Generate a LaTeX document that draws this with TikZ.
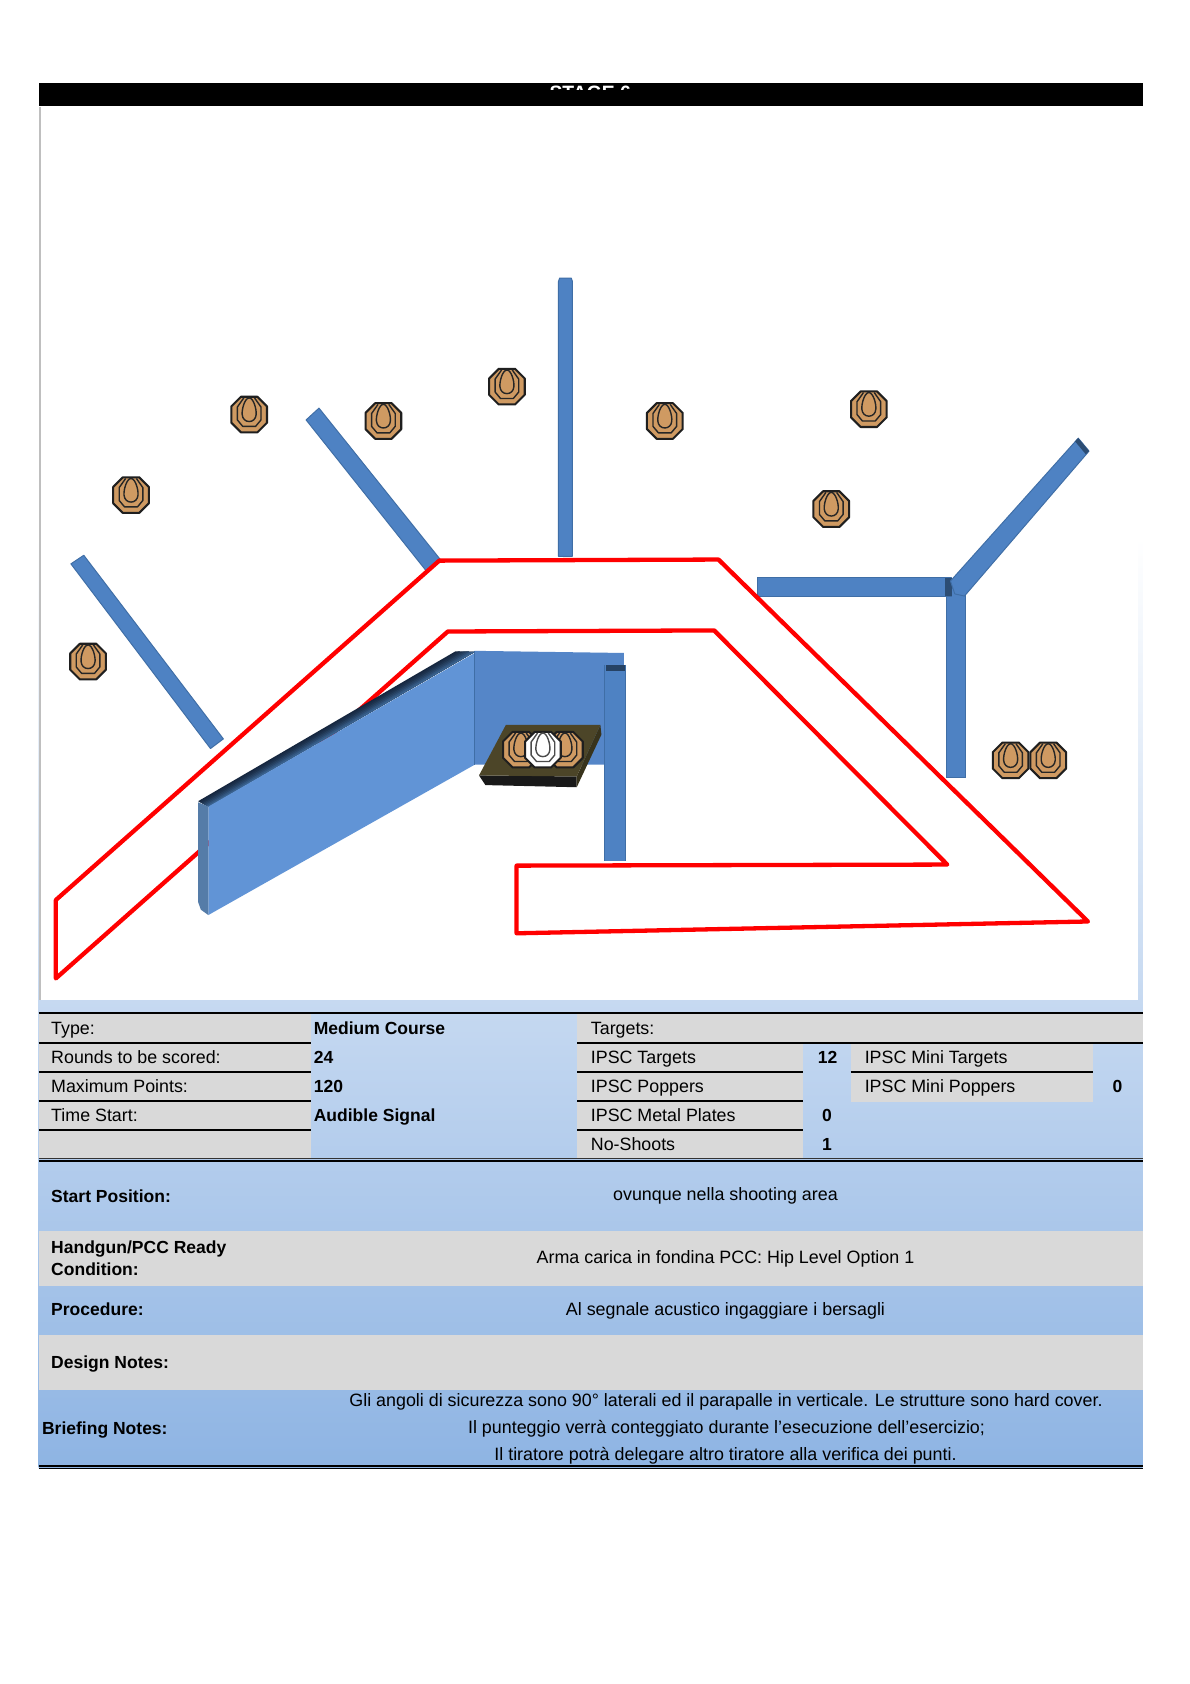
\documentclass[tikz,border=0pt]{standalone}
\usepackage{fontspec}
\setmainfont{Liberation Sans}
\usetikzlibrary{calc}
\definecolor{wallblue}{HTML}{4E82C3}
\definecolor{walledge}{HTML}{3F6EA6}
\definecolor{wallfront}{HTML}{6194D6}
\definecolor{wallback}{HTML}{5586C8}
\definecolor{wallside}{HTML}{557CA8}
\definecolor{gridgrey}{HTML}{D9D9D9}
\definecolor{tantarget}{HTML}{CF9A62}
\definecolor{padtop}{HTML}{4C4528}
\definecolor{padside}{HTML}{38331C}
\definecolor{banddark}{HTML}{16273F}
\definecolor{bandlight}{HTML}{3D6896}
\definecolor{bandtop}{HTML}{C6D9F1}
\definecolor{bandbot}{HTML}{8EB4E3}
\newcommand{\targetshape}[2]{%
  \draw[line width=1.9pt,draw=black!88,fill=#1,line join=round] (-7.6,-16.6)--(7.6,-16.6)--(16.6,-7.6)--(16.6,7.6)--(7.6,16.6)--(-7.6,16.6)--(-16.6,7.6)--(-16.6,-7.6)--cycle;
  \draw[line width=1.3pt,draw=#2,line join=round] (-5,-15.5)--(-11,-7)--(-11,5)--(-6,11)--(6,11)--(11,5)--(11,-7)--(5,-15.5);
  \draw[line width=1.3pt,draw=#2] (0,-15.5) .. controls (-4,-15.5) and (-7,-5) .. (-6.5,0) .. controls (-6.2,4) and (-3.5,6.5) .. (0,6.5) .. controls (3.5,6.5) and (6.2,4) .. (6.5,0) .. controls (7,-5) and (4,-15.5) .. (0,-15.5) -- cycle;
}
\tikzset{
  tgt/.pic={\targetshape{tantarget}{black!85}},
  whitetgt/.pic={\targetshape{white}{black!70}},
  wall/.style={fill=wallblue,draw=walledge,line width=0.9pt,line join=round},
  lbl/.style={anchor=base west,inner sep=0pt,font=\fontsize{16.6}{20}\selectfont},
  val/.style={anchor=base west,inner sep=0pt,font=\fontsize{16.3}{20}\selectfont\bfseries},
  num/.style={anchor=base,inner sep=0pt,font=\fontsize{16.3}{20}\selectfont\bfseries},
  mid/.style={anchor=base,inner sep=0pt,font=\fontsize{16.65}{20}\selectfont},
  gridline/.style={line width=2pt,draw=black},
  redline/.style={draw=red,line width=4pt,line join=round},
}
\begin{document}
\begin{tikzpicture}[x=1pt,y=-1pt]
\useasboundingbox (0,0) rectangle (1108,1568);
\fill[white] (0,0) rectangle (1108,1568);
% background gradients
\shade[top color=white,bottom color=bandtop] (36,500) rectangle (1064,932);
\shade[top color=bandtop,bottom color=bandbot] (36,931) rectangle (1064,1366);
\fill[white] (38,99) rectangle (1060,931);
\draw[line width=1.6pt,draw=black!25] (37.2,100) -- (37.2,931);
% title bar
\fill[black] (36,77) rectangle (1064,99);
\begin{scope}
\clip (36,77) rectangle (1064,83);
\node[anchor=base,inner sep=0pt,text=white,font=\fontsize{18}{20}\selectfont\bfseries] (title) at (549.5,92.7) {STAGE 6};
\end{scope}
% small walls
\draw[wall] (66,525)--(78,517)--(208,688)--(196,697)--cycle;
\draw[wall] (285,391)--(297,380)--(410,521)--(398,533)--cycle;
\draw[wall] (520,262)--(521,259)--(532,259)--(533,262)--(533,518)--(520,518)--cycle;
\draw[wall] (881,548)--(899,548)--(899,724)--(881,724)--cycle;
\draw[wall] (705,538)--(886,538)--(886,555)--(705,555)--cycle;
\fill[walledge!70!black] (880,538) rectangle (886,555);
\draw[wall] (885,541)--(1004,408)--(1014,420)--(898,555)--(889,553)--cycle;
\fill[walledge!70!black] (1004,408)--(1014,420)--(1011,423)--(1001,411)--cycle;
% red outline
\draw[redline] (52,838)--(409,522)--(669,521)--(1013,858)--(481,869)--(481,806)--(882,805)--(665,587)--(417,588)--(52,911)--cycle;
% big wall
\fill[wallback] (442,606)--(581,608)--(581,712)--(442,712)--cycle;
\foreach \t/\c in {0/0,1/10,2/20,3/35,4/50,5/70,6/90}{
  \fill[bandlight!\c!banddark]
    ($(184.5,746)!\t/7!(194,751)$) -- ($(424,606.5)!\t/7!(442,607)$) -- (442,607) -- (194,751) -- cycle;
}
\fill[wallfront] (194,751)--(442,608)--(442,712)--(194,852)--cycle;
\fill[wallside] (184.5,747)--(194,751)--(194,852)--(187,847)--(184.5,840)--cycle;
\draw[walledge,line width=0.8pt] (442,606)--(442,712);
% right post
\fill[wallblue] (563,619)--(582,619)--(582,802)--(563,802)--cycle;
\fill[walledge!60!black] (564,619) rectangle (582,625);
\draw[walledge,line width=0.6pt] (563,619)--(563,802);
\draw[walledge,line width=0.6pt] (582,619)--(582,802);
% pad
\fill[black!90] (446,722)--(537,723)--(537,733)--(452,731)--cycle;
\fill[padside] (559,675)--(560,684)--(537,733)--(537,723)--cycle;
\fill[padtop] (471,675)--(559,675)--(537,723)--(446,722)--cycle;
\pic at (485,698) {tgt};
\pic at (526,698) {tgt};
\pic at (505.5,698) {whitetgt};
% targets
\pic at (232,386) {tgt};
\pic at (122,461) {tgt};
\pic at (82,616) {tgt};
\pic at (357,392) {tgt};
\pic at (472,360) {tgt};
\pic at (619,392) {tgt};
\pic at (809,381) {tgt};
\pic at (774,474) {tgt};
\pic at (941,708) {tgt};
\pic at (976,708) {tgt};
% table fills
\fill[gridgrey] (36,943) rectangle (289.5,1079);
\fill[gridgrey] (537.5,943) rectangle (1064,971);
\fill[gridgrey] (537.5,971) rectangle (747.5,1079);
\fill[gridgrey] (792,971) rectangle (1018,1026);
\fill[gridgrey] (36,1146) rectangle (1064,1197);
\fill[gridgrey] (36,1243) rectangle (1064,1294);
% table lines
\draw[gridline] (36,943.5)--(1064,943.5);
\draw[gridline] (36,971)--(289.5,971) (537.5,971)--(1064,971);
\draw[gridline] (36,998)--(289.5,998) (537.5,998)--(747.5,998) (792,998)--(1018,998);
\draw[gridline] (36,1025)--(289.5,1025) (537.5,1025)--(747.5,1025);
\draw[gridline] (36,1052)--(289.5,1052) (537.5,1052)--(747.5,1052);
\draw[line width=1.2pt,draw=black!80] (36,1078.5)--(1064,1078.5);
\draw[line width=1.4pt] (36,1081)--(1064,1081);
\draw[line width=1.2pt] (36,1365)--(1064,1365);
\draw[line width=1.2pt] (36,1367.5)--(1064,1367.5);
% table text
\node[lbl] (a1) at (47.5,963) {Type:};
\node[lbl] (a2) at (47.5,990) {Rounds to be scored:};
\node[lbl] (a3) at (47.5,1017) {Maximum Points:};
\node[lbl] (a4) at (47.5,1044) {Time Start:};
\node[val] (b1) at (292,963) {Medium Course};
\node[val] (b2) at (292,990) {24};
\node[val] (b3) at (292,1017) {120};
\node[val] (b4) at (292,1044) {Audible Signal};
\node[lbl] (c0) at (550,963) {Targets:};
\node[lbl] (c1) at (550,990) {IPSC Targets};
\node[lbl] (c2) at (550,1017) {IPSC Poppers};
\node[lbl] (c3) at (550,1044) {IPSC Metal Plates};
\node[lbl] (c4) at (550,1071) {No-Shoots};
\node[num] (d1) at (770.5,990) {12};
\node[num] (d3) at (770,1044) {0};
\node[num] (d4) at (770,1071) {1};
\node[lbl] (e1) at (805,990) {IPSC Mini Targets};
\node[lbl] (e2) at (805,1017) {IPSC Mini Poppers};
\node[num] (f2) at (1040.5,1017) {0};
\node[val] (g1) at (47.5,1119.5) {Start Position:};
\node[mid] (h1) at (675.5,1118) {ovunque nella shooting area};
\node[val] (g2) at (47.5,1167) {Handgun/PCC Ready};
\node[val] (g2b) at (47.5,1188) {Condition:};
\node[mid] (h2) at (675.5,1176) {Arma carica in fondina PCC: Hip Level Option 1};
\node[val] (g3) at (47.5,1225) {Procedure:};
\node[mid] (h3) at (675.5,1225) {Al segnale acustico ingaggiare i bersagli};
\node[val] (g4) at (47.5,1274) {Design Notes:};
\node[val] (g5) at (39,1336) {Briefing Notes:};
\node[mid] (h5a) at (676,1310) {Gli angoli di sicurezza sono 90° laterali ed il parapalle in verticale. Le strutture sono hard cover.};
\node[mid] (h5b) at (676.5,1335) {Il punteggio verrà conteggiato durante l'esecuzione dell'esercizio;};
\node[mid] (h5c) at (675.5,1360) {Il tiratore potrà delegare altro tiratore alla verifica dei punti.};
\end{tikzpicture}
\end{document}
